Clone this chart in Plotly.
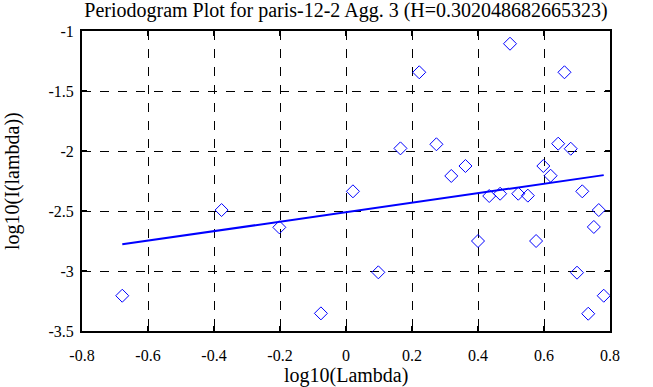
import plotly.graph_objects as go

# Periodogram points: log10(lambda), log10(I(lambda))
log_lambda = [-0.678, -0.377, -0.202, -0.076, 0.021, 0.098, 0.165, 0.222, 0.274, 0.319,
              0.362, 0.400, 0.434, 0.467, 0.497, 0.522, 0.551, 0.576, 0.598, 0.620,
              0.643, 0.662, 0.681, 0.700, 0.716, 0.734, 0.751, 0.766, 0.781]
log_I = [-3.206, -2.492, -2.636, -3.353, -2.336, -3.011, -1.978, -1.344, -1.944, -2.208,
         -2.125, -2.750, -2.375, -2.356, -1.106, -2.356, -2.372, -2.750, -2.125, -2.206,
         -1.939, -1.344, -1.981, -3.014, -2.336, -3.356, -2.633, -2.492, -3.206]

# Least-squares fit line endpoints
fit_x = [-0.678, 0.781]
fit_y = [-2.778, -2.201]

x_ticks = [-0.8, -0.6, -0.4, -0.2, 0, 0.2, 0.4, 0.6, 0.8]
x_ticktext = ["-0.8", "-0.6", "-0.4", "-0.2", "0", "0.2", "0.4", "0.6", "0.8"]
y_ticks = [-1, -1.5, -2, -2.5, -3, -3.5]
y_ticktext = ["-1", "-1.5", "-2", "-2.5", "-3", "-3.5"]

title = "Periodogram Plot for paris-12-2 Agg. 3 (H=0.302048682665323)"
x_title = "log10(Lambda)"
y_title = "log10(I(lambda))"

FAM = "Liberation Serif"
tick_font = dict(family=FAM, size=16, color="black")
big_font = dict(family=FAM, size=20, color="black")

fig = go.Figure()
fig.add_trace(go.Scatter(x=log_lambda, y=log_I, mode="markers",
                         marker=dict(symbol="diamond-open", size=10, color="#0000ff",
                                     line=dict(width=1, color="#0000ff")),
                         showlegend=False))
fig.add_trace(go.Scatter(x=fit_x, y=fit_y, mode="lines",
                         line=dict(color="#0000ff", width=2), showlegend=False))

axis_common = dict(showgrid=True, gridcolor="black", griddash="dash", gridwidth=1,
                   showline=True, linecolor="black", linewidth=2, mirror="allticks",
                   ticks="inside", ticklen=5, tickwidth=2, tickcolor="black",
                   zeroline=False, tickfont=tick_font)

fig.update_layout(
    width=653, height=387,
    margin=dict(l=82, r=43, t=31, b=56),
    paper_bgcolor="white", plot_bgcolor="white",
    font=tick_font,
    title=dict(text=title, x=346 / 653, xanchor="center", xref="container",
               y=1 - 10 / 387, yanchor="middle", yref="container", font=big_font),
    xaxis=dict(range=[-0.8, 0.8], tickvals=x_ticks, ticktext=x_ticktext,
               ticklabelstandoff=9, **axis_common),
    yaxis=dict(range=[-3.5, -1], tickvals=y_ticks, ticktext=y_ticktext,
               ticklabelstandoff=3, **axis_common),
    annotations=[
        dict(text=x_title, xref="paper", yref="paper", x=0.5, y=-0.147,
             xanchor="center", yanchor="middle", showarrow=False, font=big_font),
        dict(text=y_title, xref="paper", yref="paper", x=(12 - 82) / 528, y=0.5,
             xanchor="center", yanchor="middle", showarrow=False, font=big_font,
             textangle=-90),
    ],
)

fig.write_html("out.html", config={"displayModeBar": False},
               post_script="document.body.style.margin='0';")
